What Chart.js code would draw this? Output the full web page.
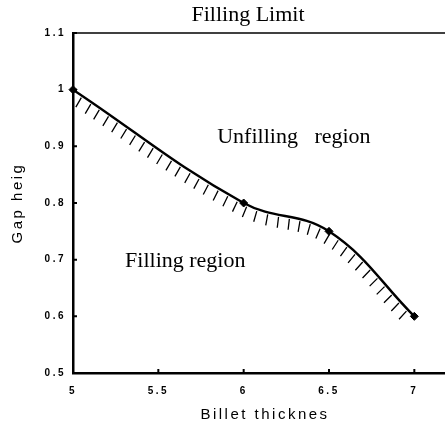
<!DOCTYPE html>
<html>
<head>
<meta charset="utf-8">
<title>Filling Limit</title>
<script src="https://cdn.jsdelivr.net/npm/chart.js@4.4.1/dist/chart.umd.min.js"></script>
<style>
  html, body { margin: 0; padding: 0; background: #fff; overflow: hidden; }
  #wrap { position: absolute; left: 0; top: 0; width: 445px; height: 425px; overflow: hidden; }
</style>
</head>
<body>
<div id="wrap"><canvas id="chart" width="496" height="425"></canvas></div>
<script>
//********************** data **********************
const thickness = [5, 6, 6.5, 7];
const gapHeight = [1.0, 0.8, 0.75, 0.6];
const xTicks = [5, 5.5, 6, 6.5, 7];
const yTicks = [0.5, 0.6, 0.7, 0.8, 0.9, 1.0, 1.1];
const chartTitle = 'Filling Limit';
const xTitle = 'Billet thicknes';
const yTitle = 'Gap heig';
const regionNames = ['Unfilling   region', 'Filling region'];

//********************** styles **********************
const SANS = "'Liberation Sans', Arial, sans-serif";
const SERIF = "'Liberation Serif', 'Times New Roman', serif";
// where the region names sit, in data units (left / baseline)
const regionAt = [{ x: 5.845, y: 0.906 }, { x: 5.305, y: 0.687 }];

// the sans texts of the original are letter-spaced
const spacingPlugin = {
  id: 'spacing',
  beforeDraw(chart) {
    chart.ctx.letterSpacing = '2.5px';
  }
};

// short slanted strokes under the curve (filling side)
const hatchPlugin = {
  id: 'hatch',
  afterDatasetsDraw(chart) {
    const pts = chart.getDatasetMeta(0).data;
    const ctx = chart.ctx;
    const step = 11, gap = 2, len = 11;
    const turn = 86 * Math.PI / 180;
    let next = step;
    let run = 0;
    ctx.save();
    ctx.strokeStyle = '#000';
    ctx.lineWidth = 1.3;
    ctx.beginPath();
    for (let i = 0; i < pts.length - 1; i++) {
      const a = pts[i], b = pts[i + 1];
      const c1x = a.cp2x ?? a.x, c1y = a.cp2y ?? a.y;
      const c2x = b.cp1x ?? b.x, c2y = b.cp1y ?? b.y;
      const bez = (t) => {
        const u = 1 - t;
        return {
          x: u * u * u * a.x + 3 * u * u * t * c1x + 3 * u * t * t * c2x + t * t * t * b.x,
          y: u * u * u * a.y + 3 * u * u * t * c1y + 3 * u * t * t * c2y + t * t * t * b.y
        };
      };
      let prev = bez(0);
      for (let k = 1; k <= 300; k++) {
        const p = bez(k / 300);
        const dx = p.x - prev.x, dy = p.y - prev.y;
        run += Math.hypot(dx, dy);
        while (run >= next) {
          const th = Math.atan2(dy, dx) + turn;
          ctx.moveTo(p.x + gap * Math.cos(th), p.y + gap * Math.sin(th));
          ctx.lineTo(p.x + (gap + len) * Math.cos(th), p.y + (gap + len) * Math.sin(th));
          next += step;
        }
        prev = p;
      }
    }
    ctx.stroke();
    ctx.restore();
  }
};

// top frame line, inward tick marks, title and region names
const framePlugin = {
  id: 'frame',
  afterDraw(chart) {
    const ctx = chart.ctx;
    const area = chart.chartArea;
    const xs = chart.scales.x, ys = chart.scales.y;
    ctx.save();
    ctx.strokeStyle = '#000';
    ctx.lineWidth = 1.5;
    ctx.beginPath();
    ctx.moveTo(area.left, area.top);
    ctx.lineTo(chart.width, area.top);
    ctx.stroke();

    ctx.lineWidth = 2;
    ctx.beginPath();
    xTicks.forEach(v => {
      const px = xs.getPixelForValue(v);
      ctx.moveTo(px, area.bottom);
      ctx.lineTo(px, area.bottom - 4);
    });
    yTicks.forEach(v => {
      const py = ys.getPixelForValue(v);
      ctx.moveTo(area.left, py);
      ctx.lineTo(area.left + 4, py);
    });
    ctx.stroke();

    ctx.letterSpacing = '0px';
    ctx.fillStyle = '#000';
    ctx.font = '22px ' + SERIF;
    ctx.textAlign = 'center';
    ctx.textBaseline = 'alphabetic';
    ctx.fillText(chartTitle, chart.width / 2, 21);

    ctx.textAlign = 'left';
    regionNames.forEach((name, i) => {
      ctx.fillText(name, xs.getPixelForValue(regionAt[i].x), ys.getPixelForValue(regionAt[i].y));
    });
    ctx.restore();
  }
};

new Chart(document.getElementById('chart'), {
  type: 'line',
  data: {
    datasets: [{
      data: thickness.map((t, i) => ({ x: t, y: gapHeight[i] })),
      borderColor: '#000',
      borderWidth: 2.4,
      tension: 0.4,
      fill: false,
      clip: false,
      pointStyle: 'rectRot',
      pointRadius: 4,
      pointBackgroundColor: '#000',
      pointBorderColor: '#000',
      pointBorderWidth: 1
    }]
  },
  options: {
    responsive: false,
    animation: false,
    events: [],
    layout: { padding: { left: 0, right: 39, top: 33, bottom: 0 } },
    plugins: {
      legend: { display: false },
      tooltip: { enabled: false },
      title: { display: false }
    },
    scales: {
      x: {
        type: 'linear',
        min: 5,
        max: 7.25,
        afterBuildTicks: (scale) => { scale.ticks = xTicks.map(v => ({ value: v })); },
        afterFit: (scale) => { scale.height = 52; },
        grid: { display: false, drawTicks: false },
        border: { display: true, width: 2.5, color: '#000' },
        ticks: {
          padding: 12,
          color: '#000',
          font: { family: SANS, size: 10, weight: 'bold' },
          maxRotation: 0,
          callback: (v) => String(v)
        },
        title: {
          display: true,
          text: xTitle,
          color: '#000',
          font: { family: SANS, size: 15 },
          padding: { top: 0, bottom: 1 }
        }
      },
      y: {
        min: 0.5,
        max: 1.1,
        afterBuildTicks: (scale) => { scale.ticks = yTicks.map(v => ({ value: v })); },
        afterFit: (scale) => { scale.width = 73; },
        grid: { display: false, drawTicks: false },
        border: { display: true, width: 2.5, color: '#000' },
        ticks: {
          padding: 7,
          color: '#000',
          font: { family: SANS, size: 10, weight: 'bold' },
          callback: (v) => String(Math.round(v * 10) / 10)
        },
        title: {
          display: true,
          text: yTitle,
          color: '#000',
          font: { family: SANS, size: 15 },
          padding: { top: 9, bottom: 0 }
        }
      }
    }
  },
  plugins: [spacingPlugin, hatchPlugin, framePlugin]
});
</script>
</body>
</html>
